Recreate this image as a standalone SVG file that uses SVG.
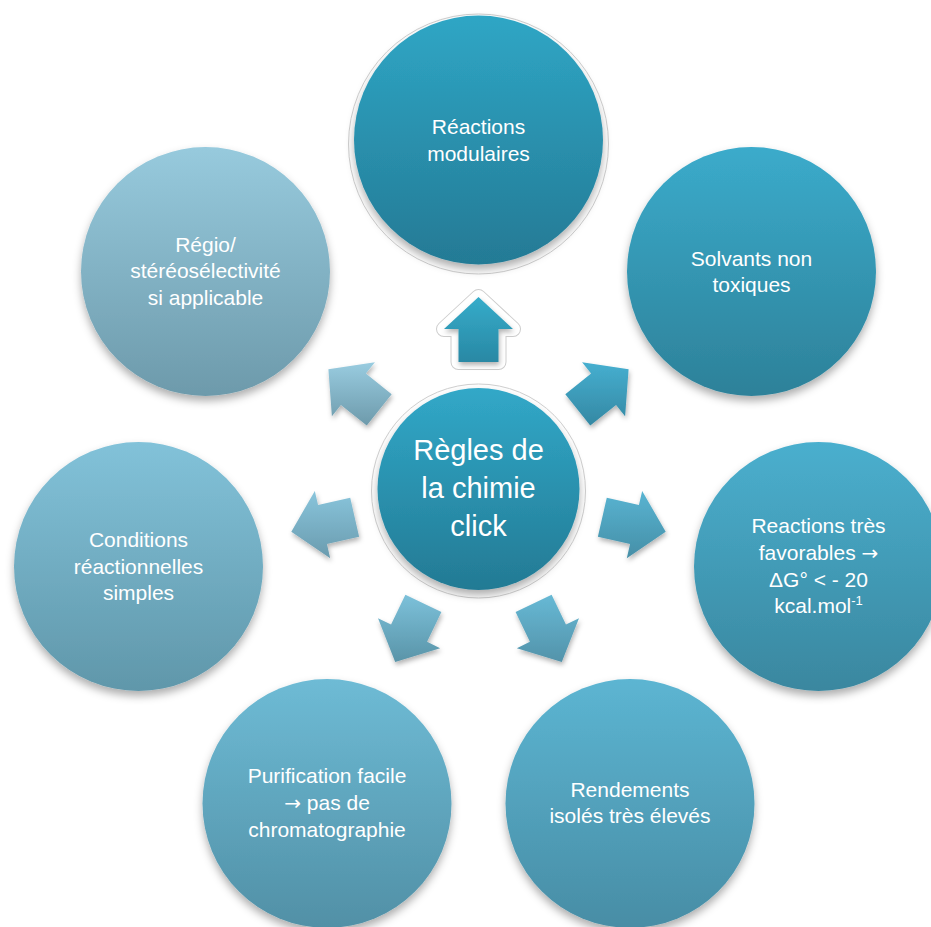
<svg xmlns="http://www.w3.org/2000/svg" width="931" height="927" viewBox="0 0 931 927">
<defs>
<filter id="sh" x="-20%" y="-20%" width="140%" height="150%"><feDropShadow dx="0" dy="5" stdDeviation="4.5" flood-color="#000" flood-opacity="0.32"/></filter>
<filter id="sha" x="-30%" y="-30%" width="160%" height="170%"><feDropShadow dx="1" dy="3" stdDeviation="2.5" flood-color="#000" flood-opacity="0.3"/></filter>
<linearGradient id="gC" x1="0" y1="0" x2="0" y2="1"><stop offset="0" stop-color="#31a8c8"/><stop offset="1" stop-color="#237a94"/></linearGradient>
<linearGradient id="g1" x1="0" y1="0" x2="0" y2="1"><stop offset="0" stop-color="#2fa6c5"/><stop offset="1" stop-color="#247a95"/></linearGradient>
<linearGradient id="g2" x1="0" y1="0" x2="0" y2="1"><stop offset="0" stop-color="#3babcb"/><stop offset="1" stop-color="#2d8199"/></linearGradient>
<linearGradient id="g3" x1="0" y1="0" x2="0" y2="1"><stop offset="0" stop-color="#4aafce"/><stop offset="1" stop-color="#3a879f"/></linearGradient>
<linearGradient id="g4" x1="0" y1="0" x2="0" y2="1"><stop offset="0" stop-color="#5cb5d2"/><stop offset="1" stop-color="#488da5"/></linearGradient>
<linearGradient id="g5" x1="0" y1="0" x2="0" y2="1"><stop offset="0" stop-color="#6ebbd5"/><stop offset="1" stop-color="#5190a6"/></linearGradient>
<linearGradient id="g6" x1="0" y1="0" x2="0" y2="1"><stop offset="0" stop-color="#82c2d9"/><stop offset="1" stop-color="#6097aa"/></linearGradient>
<linearGradient id="g7" x1="0" y1="0" x2="0" y2="1"><stop offset="0" stop-color="#97cadd"/><stop offset="1" stop-color="#6d9aab"/></linearGradient>
<linearGradient id="a1" x1="0" y1="0" x2="0" y2="1"><stop offset="0" stop-color="#35acca"/><stop offset="1" stop-color="#2988a4"/></linearGradient>
<linearGradient id="a2" x1="0" y1="0" x2="0" y2="1"><stop offset="0" stop-color="#46afd0"/><stop offset="1" stop-color="#3488a3"/></linearGradient>
<linearGradient id="a3" x1="0" y1="0" x2="0" y2="1"><stop offset="0" stop-color="#58b4d2"/><stop offset="1" stop-color="#468fa7"/></linearGradient>
<linearGradient id="a4" x1="0" y1="0" x2="0" y2="1"><stop offset="0" stop-color="#67b9d5"/><stop offset="1" stop-color="#5393aa"/></linearGradient>
<linearGradient id="a5" x1="0" y1="0" x2="0" y2="1"><stop offset="0" stop-color="#7cc1da"/><stop offset="1" stop-color="#5a94a8"/></linearGradient>
<linearGradient id="a6" x1="0" y1="0" x2="0" y2="1"><stop offset="0" stop-color="#89c5dc"/><stop offset="1" stop-color="#6a9bae"/></linearGradient>
<linearGradient id="a7" x1="0" y1="0" x2="0" y2="1"><stop offset="0" stop-color="#99cce0"/><stop offset="1" stop-color="#6d9aab"/></linearGradient>
</defs>
<style>
text{font-family:"Liberation Sans",Arial,sans-serif;fill:#ffffff;text-anchor:middle;font-size:21px}
.big{font-size:29px}
.sym{font-family:"DejaVu Sans",sans-serif;font-size:20px}
.ring{fill:none;stroke:#cfcfcf;stroke-width:1}
.arr{filter:url(#sha)}
.node circle.f{filter:url(#sh)}
</style>
<rect width="931" height="927" fill="#ffffff"/>

<g id="connectors">
<polygon points="478.5,297 513,329 498.5,329 498.5,362 458.5,362 458.5,329 444,329" fill="none" stroke="#cdcdcd" stroke-width="16" stroke-linejoin="round"/>
<polygon points="478.5,297 513,329 498.5,329 498.5,362 458.5,362 458.5,329 444,329" fill="#ffffff" stroke="#ffffff" stroke-width="14" stroke-linejoin="round"/>
<polygon class="arr" fill="url(#a1)" points="478.5,297 513,329 498.5,329 498.5,362 458.5,362 458.5,329 444,329"/>
<polygon class="arr" fill="url(#a2)" points="628.61,369.29 625.10,416.21 616.06,404.88 590.26,425.46 565.32,394.18 591.12,373.60 582.08,362.27"/>
<polygon class="arr" fill="url(#a3)" points="665.69,531.72 626.81,558.24 630.04,544.10 597.87,536.76 606.77,497.76 638.94,505.10 642.17,490.96"/>
<polygon class="arr" fill="url(#a4)" points="561.80,661.99 516.84,648.13 529.90,641.84 515.58,612.10 551.62,594.74 565.94,624.48 579.00,618.19"/>
<polygon class="arr" fill="url(#a5)" points="395.20,661.99 378.00,618.19 391.06,624.48 405.38,594.74 441.42,612.10 427.10,641.84 440.16,648.13"/>
<polygon class="arr" fill="url(#a6)" points="291.31,531.72 330.19,558.24 326.96,544.10 359.13,536.76 350.23,497.76 318.06,505.10 314.83,490.96"/>
<polygon class="arr" fill="url(#a7)" points="328.39,369.29 331.90,416.21 340.94,404.88 366.74,425.46 391.68,394.18 365.88,373.60 374.92,362.27"/>
</g>

<g id="center" class="node">
<circle class="ring" cx="478.5" cy="491" r="107"/>
<circle class="f" cx="478.5" cy="489" r="101" fill="url(#gC)"/>
<text class="big" x="478.5" y="460">Règles de</text>
<text class="big" x="478.5" y="498">la chimie</text>
<text class="big" x="478.5" y="536">click</text>
</g>

<g id="n-modulaires" class="node">
<circle class="ring" cx="478.5" cy="144" r="130"/>
<circle class="f" cx="478.5" cy="140" r="124.5" fill="url(#g1)"/>
<text x="478.5" y="134">Réactions</text>
<text x="478.5" y="161">modulaires</text>
</g>

<g id="n-solvants" class="node">
<circle class="f" cx="751.5" cy="271.5" r="124.5" fill="url(#g2)"/>
<text x="751.5" y="266">Solvants non</text>
<text x="751.5" y="292">toxiques</text>
</g>

<g id="n-favorables" class="node">
<circle class="f" cx="818.5" cy="566.5" r="124.5" fill="url(#g3)"/>
<text x="818.5" y="533">Reactions très</text>
<text x="818.5" y="560">favorables <tspan class="sym">→</tspan></text>
<text x="818.5" y="587">ΔG° &lt; - 20</text>
<text x="818.5" y="613">kcal.mol<tspan font-size="13" dy="-8">-1</tspan></text>
</g>

<g id="n-rendements" class="node">
<circle class="f" cx="630" cy="803.5" r="124.5" fill="url(#g4)"/>
<text x="630" y="797">Rendements</text>
<text x="630" y="823">isolés très élevés</text>
</g>

<g id="n-purification" class="node">
<circle class="f" cx="327" cy="803.5" r="124.5" fill="url(#g5)"/>
<text x="327" y="783">Purification facile</text>
<text x="327" y="810"><tspan class="sym">→</tspan> pas de</text>
<text x="327" y="837">chromatographie</text>
</g>

<g id="n-conditions" class="node">
<circle class="f" cx="138.5" cy="566.5" r="124.5" fill="url(#g6)"/>
<text x="138.5" y="547">Conditions</text>
<text x="138.5" y="574">réactionnelles</text>
<text x="138.5" y="600">simples</text>
</g>

<g id="n-regio" class="node">
<circle class="f" cx="205.5" cy="271.5" r="124.5" fill="url(#g7)"/>
<text x="205.5" y="252">Régio/</text>
<text x="205.5" y="278">stéréosélectivité</text>
<text x="205.5" y="305">si applicable</text>
</g>
</svg>
